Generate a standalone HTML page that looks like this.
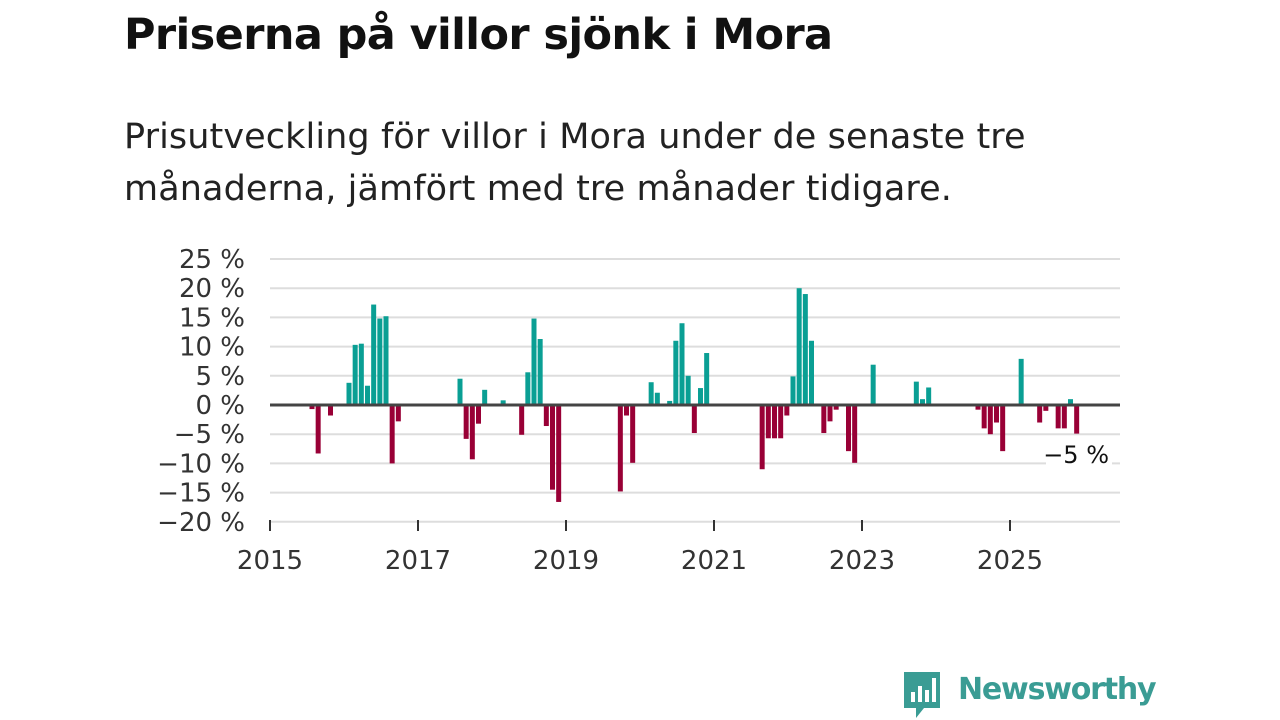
<!DOCTYPE html>
<html><head><meta charset="utf-8"><style>
body{margin:0;width:1280px;height:720px;background:#fff;font-family:"Liberation Sans","DejaVu Sans",sans-serif;overflow:hidden;position:relative}
#title{position:absolute;left:124px;top:10px;font-size:43px;font-weight:bold;color:#111;margin:0;font-family:"DejaVu Sans","Liberation Sans",sans-serif;letter-spacing:-0.6px}
#sub{position:absolute;left:124px;top:111px;font-size:35px;line-height:52px;color:#222;width:1020px;font-family:"DejaVu Sans","Liberation Sans",sans-serif;letter-spacing:0.1px}
svg{position:absolute;left:0;top:0}
</style></head><body>
<h1 id="title">Priserna på villor sjönk i Mora</h1>
<div id="sub">Prisutveckling för villor i Mora under de senaste tre<br>månaderna, jämfört med tre månader tidigare.</div>
<svg id="chart" width="1280" height="720"></svg>
<div style="position:absolute;left:902px;top:670px;height:50px;">
<svg width="40" height="50" style="position:absolute;left:0;top:0"><path d="M2 2 H38 V38 H22 L14 48 V38 H2 Z" fill="#3a9c94"/><rect x="9" y="22" width="4" height="10" fill="#fff"/><rect x="16" y="16" width="4" height="16" fill="#fff"/><rect x="23" y="20" width="4" height="12" fill="#fff"/><rect x="30" y="8" width="4" height="24" fill="#fff"/></svg>
<span style="position:absolute;left:56px;top:2px;font-size:30px;font-weight:bold;color:#3a9c94;font-family:'DejaVu Sans','Liberation Sans',sans-serif;letter-spacing:-1.2px">Newsworthy</span>
</div>
<script>
const monthIndex=[6,7,9,12,13,14,15,16,17,18,19,20,30,31,32,33,34,37,40,41,42,43,44,45,46,56,57,58,61,62,64,65,66,67,68,69,70,79,80,81,82,83,84,85,86,87,89,90,91,93,94,97,104,105,106,114,115,116,117,118,121,124,125,127,128,129,130];
const values=[-0.7,-8.3,-1.8,3.8,10.3,10.5,3.3,17.2,14.8,15.2,-10,-2.8,4.5,-5.8,-9.3,-3.2,2.6,0.8,-5.1,5.6,14.8,11.3,-3.6,-14.5,-16.6,-14.8,-1.8,-9.9,3.9,2.1,0.7,11,14,5,-4.8,2.9,8.9,-11,-5.7,-5.7,-5.7,-1.8,4.9,20,19,11,-4.8,-2.8,-0.8,-7.9,-9.9,6.9,4,1,3,-0.8,-4,-5,-3,-7.9,7.9,-3,-1,-4,-4,1,-4.9];
const yTicks=[25,20,15,10,5,0,-5,-10,-15,-20];
const yearLabels=[2015,2017,2019,2021,2023,2025];
const lastLabel="−5 %";
const svg=document.getElementById('chart');const NS="http://www.w3.org/2000/svg";
const x0=270,x1=1120,pitch=74/12;
const y=v=>405-v*5.84;
const xm=i=>x0+i*pitch;
const xy=yr=>x0+(yr-2015)*74;
function mk(t,a){const e=document.createElementNS(NS,t);for(const k in a)e.setAttribute(k,a[k]);svg.appendChild(e);return e;}
yTicks.forEach(t=>{
 const g=mk('line',{x1:x0,x2:x1,y1:y(t),y2:y(t),stroke:'#ddd','stroke-width':2});
 
 
 const l=mk('text',{x:245,y:y(t)+9,'text-anchor':'end','font-size':26,fill:'#333','font-family':'DejaVu Sans, Liberation Sans, sans-serif'});
 l.textContent=(t<0?'−'+(-t):t)+' %';
 
 
});
monthIndex.forEach((m,k)=>{
 const v=values[k];
 const r=mk('rect',{x:xm(m)+2.5,width:5,y:Math.min(y(v),y(0)),height:Math.abs(y(v)-y(0)),fill:v>=0?'#0a9f94':'#990036'});
 
 
});
const z=mk('line',{x1:x0,x2:x1,y1:y(0),y2:y(0),stroke:'#444','stroke-width':3});


yearLabels.forEach(yr=>{
 const t=mk('line',{x1:xy(yr),x2:xy(yr),y1:520,y2:531,stroke:'#333','stroke-width':2});
 
 
 const l=mk('text',{x:xy(yr),y:569,'text-anchor':'middle','font-size':26,fill:'#333','font-family':'DejaVu Sans, Liberation Sans, sans-serif'});
 l.textContent=yr;
 
 
});
const bg=mk('rect',{x:1046,y:440,width:66,height:28,fill:'#fff'});


const lv=mk('text',{x:1109,y:463,'text-anchor':'end','font-size':24,fill:'#111','font-family':'DejaVu Sans, Liberation Sans, sans-serif'});
lv.textContent=lastLabel;


</script>
</body></html>
